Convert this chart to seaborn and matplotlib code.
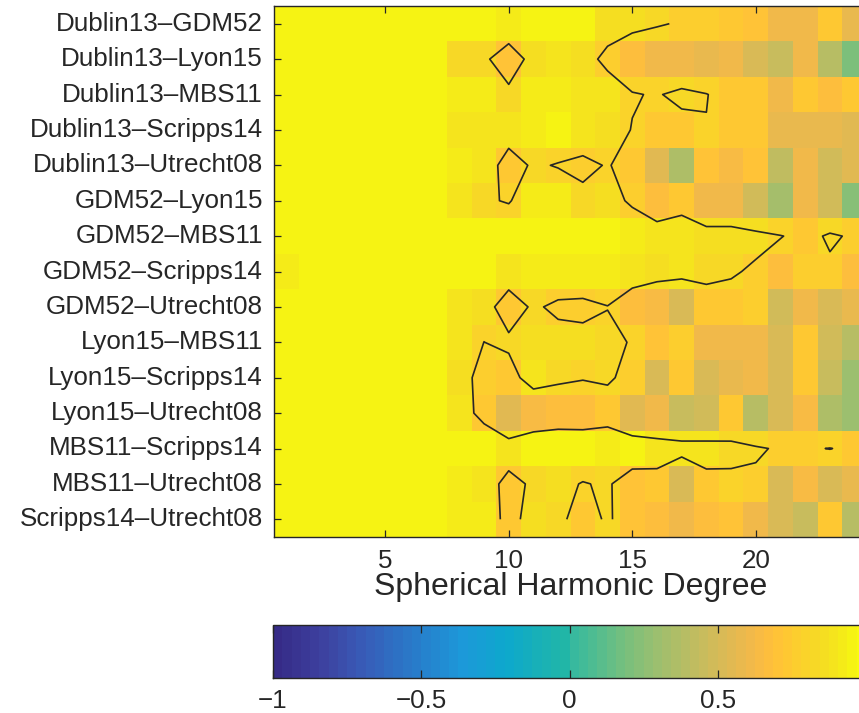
import numpy as np
import pandas as pd
import matplotlib
matplotlib.use("Agg")
import matplotlib.pyplot as plt
from matplotlib.colors import ListedColormap, LinearSegmentedColormap
import seaborn as sns

# Model pairs (rows) and spherical harmonic degrees (columns)
pairs = [
    "Dublin13\u2013GDM52", "Dublin13\u2013Lyon15", "Dublin13\u2013MBS11",
    "Dublin13\u2013Scripps14", "Dublin13\u2013Utrecht08", "GDM52\u2013Lyon15",
    "GDM52\u2013MBS11", "GDM52\u2013Scripps14", "GDM52\u2013Utrecht08",
    "Lyon15\u2013MBS11", "Lyon15\u2013Scripps14", "Lyon15\u2013Utrecht08",
    "MBS11\u2013Scripps14", "MBS11\u2013Utrecht08", "Scripps14\u2013Utrecht08",
]
degrees = list(range(1, 25))

# Correlation per degree for each pair
dublin13_gdm52 = [0.95, 0.95, 0.95, 0.95, 0.95, 0.95, 0.95, 0.95, 0.95, 0.93, 0.95, 0.95, 0.94,
                  0.87, 0.85, 0.82, 0.78, 0.77, 0.72, 0.71, 0.60, 0.60, 0.72, 0.58]
dublin13_lyon15 = [0.95, 0.95, 0.96, 0.95, 0.95, 0.95, 0.94, 0.84, 0.83, 0.70, 0.86, 0.90, 0.86,
                   0.76, 0.66, 0.60, 0.60, 0.59, 0.60, 0.50, 0.44, 0.60, 0.38, 0.20]
dublin13_mbs11 = [0.95, 0.95, 0.95, 0.95, 0.95, 0.95, 0.94, 0.92, 0.93, 0.84, 0.93, 0.92, 0.90,
                  0.88, 0.81, 0.788, 0.84, 0.805, 0.74, 0.72, 0.62, 0.74, 0.66, 0.72]
dublin13_scripps14 = [0.95, 0.95, 0.95, 0.95, 0.95, 0.95, 0.94, 0.90, 0.90, 0.887, 0.92, 0.946, 0.90,
                      0.86, 0.795, 0.72, 0.742, 0.795, 0.73, 0.72, 0.58, 0.58, 0.57, 0.56]
dublin13_utrecht08 = [0.95, 0.95, 0.96, 0.95, 0.95, 0.95, 0.94, 0.92, 0.90, 0.72, 0.824, 0.789, 0.763,
                      0.81, 0.74, 0.55, 0.37, 0.70, 0.64, 0.70, 0.43, 0.60, 0.48, 0.56]
gdm52_lyon15 = [0.95, 0.95, 0.96, 0.95, 0.95, 0.95, 0.94, 0.90, 0.825, 0.785, 0.92, 0.93, 0.84,
                0.87, 0.77, 0.68, 0.73, 0.60, 0.60, 0.47, 0.32, 0.60, 0.47, 0.22]
gdm52_mbs11 = [0.95, 0.95, 0.95, 0.95, 0.95, 0.95, 0.95, 0.95, 0.95, 0.96, 0.95, 0.95, 0.95,
               0.94, 0.93, 0.883, 0.90, 0.874, 0.874, 0.854, 0.81, 0.73, 0.83, 0.77]
gdm52_scripps14 = [0.93, 0.95, 0.95, 0.95, 0.95, 0.95, 0.95, 0.95, 0.95, 0.887, 0.93, 0.93, 0.93,
                   0.93, 0.90, 0.86, 0.88, 0.84, 0.821, 0.772, 0.67, 0.78, 0.762, 0.68]
gdm52_utrecht08 = [0.94, 0.95, 0.95, 0.95, 0.95, 0.95, 0.94, 0.88, 0.86, 0.72, 0.8226, 0.7675, 0.759,
                   0.796, 0.687, 0.653, 0.50, 0.73, 0.72, 0.75, 0.48, 0.60, 0.50, 0.58]
lyon15_mbs11 = [0.95, 0.955, 0.95, 0.95, 0.95, 0.95, 0.94, 0.90, 0.799, 0.83, 0.86, 0.86, 0.85,
                0.84, 0.789, 0.70, 0.76, 0.60, 0.60, 0.62, 0.50, 0.74, 0.48, 0.40]
lyon15_scripps14 = [0.95, 0.95, 0.95, 0.95, 0.95, 0.95, 0.94, 0.854, 0.75, 0.733, 0.88, 0.83, 0.81,
                    0.82, 0.755, 0.50, 0.72, 0.52, 0.58, 0.60, 0.50, 0.73, 0.45, 0.30]
lyon15_utrecht08 = [0.95, 0.95, 0.95, 0.95, 0.95, 0.95, 0.94, 0.90, 0.73, 0.55, 0.63, 0.67, 0.667,
                    0.725, 0.55, 0.60, 0.45, 0.47, 0.72, 0.40, 0.50, 0.64, 0.35, 0.30]
mbs11_scripps14 = [0.95, 0.95, 0.95, 0.95, 0.95, 0.95, 0.95, 0.95, 0.963, 0.897, 0.95, 0.955, 0.95,
                   0.917, 0.94, 0.878, 0.893, 0.888, 0.821, 0.826, 0.775, 0.77, 0.807, 0.74]
mbs11_utrecht08 = [0.95, 0.95, 0.95, 0.95, 0.95, 0.95, 0.94, 0.93, 0.885, 0.743, 0.828, 0.849, 0.79,
                   0.822, 0.699, 0.741, 0.505, 0.736, 0.784, 0.761, 0.50, 0.64, 0.50, 0.58]
scripps14_utrecht08 = [0.95, 0.95, 0.95, 0.95, 0.95, 0.95, 0.94, 0.93, 0.916, 0.74, 0.868, 0.843, 0.72,
                       0.825, 0.70, 0.68, 0.60, 0.66, 0.70, 0.60, 0.50, 0.45, 0.72, 0.40]

contour_level = 0.8
colorbar_ticks = [-1, -0.5, 0, 0.5, 1]
colorbar_labels = ["\u22121", "\u22120.5", "0", "0.5", ""]
degree_ticks = [5, 10, 15, 20]

# Parula-style colour table: soft blue ramp for the negative half,
# followed by the upper 32 steps of the 64-step parula table.
BLUE_HALF = [
    (0.00, (0.21, 0.17, 0.53)), (0.15, (0.24, 0.25, 0.62)),
    (0.30, (0.22, 0.36, 0.72)), (0.50, (0.15, 0.50, 0.80)),
    (0.65, (0.11, 0.60, 0.85)), (0.80, (0.05, 0.66, 0.80)),
    (1.00, (0.13, 0.715, 0.655)),
]
PARULA_UPPER = [
    (0.2178, 0.7250, 0.6193), (0.2586, 0.7317, 0.5954), (0.3022, 0.7376, 0.5712),
    (0.3482, 0.7424, 0.5473), (0.3953, 0.7459, 0.5244), (0.4420, 0.7481, 0.5033),
    (0.4871, 0.7491, 0.4840), (0.5300, 0.7491, 0.4661), (0.5709, 0.7485, 0.4494),
    (0.6099, 0.7473, 0.4337), (0.6473, 0.7456, 0.4188), (0.6834, 0.7435, 0.4044),
    (0.7184, 0.7411, 0.3905), (0.7525, 0.7384, 0.3768), (0.7858, 0.7356, 0.3633),
    (0.8185, 0.7327, 0.3498), (0.8507, 0.7299, 0.3360), (0.8824, 0.7274, 0.3217),
    (0.9139, 0.7258, 0.3063), (0.9450, 0.7261, 0.2886), (0.9739, 0.7314, 0.2666),
    (0.9938, 0.7455, 0.2403), (0.9990, 0.7653, 0.2164), (0.9955, 0.7861, 0.1967),
    (0.9880, 0.8066, 0.1794), (0.9789, 0.8271, 0.1633), (0.9697, 0.8481, 0.1475),
    (0.9626, 0.8705, 0.1309), (0.9589, 0.8949, 0.1132), (0.9598, 0.9218, 0.0948),
    (0.9661, 0.9514, 0.0755), (0.9763, 0.9831, 0.0538),
]
blue_ramp = LinearSegmentedColormap.from_list("blue_half", BLUE_HALF)
parula = ListedColormap(
    [blue_ramp(t)[:3] for t in np.linspace(0, 1, 32)] + PARULA_UPPER, name="parula")

plt.rcParams["font.family"] = ["Liberation Sans", "DejaVu Sans"]
ink = "#262626"

rows = [dublin13_gdm52, dublin13_lyon15, dublin13_mbs11, dublin13_scripps14,
        dublin13_utrecht08, gdm52_lyon15, gdm52_mbs11, gdm52_scripps14,
        gdm52_utrecht08, lyon15_mbs11, lyon15_scripps14, lyon15_utrecht08,
        mbs11_scripps14, mbs11_utrecht08, scripps14_utrecht08]
data = pd.DataFrame(rows, index=pairs, columns=degrees)

W, H = 859, 713
fig = plt.figure(figsize=(W / 100, H / 100), dpi=100)
ax = fig.add_axes([274 / W, 1 - 537 / H, 593 / W, 531 / H])
cax = fig.add_axes([273 / W, 1 - 678 / H, 593 / W, 53 / H])

sns.heatmap(data, ax=ax, cmap=parula, vmin=-1, vmax=1, cbar_ax=cax,
            cbar_kws={"orientation": "horizontal", "ticks": colorbar_ticks})

# Contour of the correlation field on the cell centres
xc = np.arange(len(degrees)) + 0.5
yc = np.arange(len(pairs)) + 0.5
ax.contour(xc, yc, data.values, levels=[contour_level], colors=ink, linewidths=1.2)

ax.set_xticks([degrees.index(d) + 0.5 for d in degree_ticks])
ax.set_xticklabels([str(d) for d in degree_ticks], rotation=0)
ax.set_yticks(yc)
ax.set_yticklabels(pairs, rotation=0)
ax.tick_params(axis="both", direction="in", length=5, width=0.9, color=ink,
               labelcolor=ink, labelsize=18.7, top=True, right=True,
               bottom=True, left=True)
ax.tick_params(axis="x", pad=9)
ax.tick_params(axis="y", pad=8)
for s in ax.spines.values():
    s.set_visible(True)
    s.set_color(ink)
    s.set_linewidth(1.0)
ax.set_ylabel("")
ax.set_xlabel("Spherical Harmonic Degree", fontsize=23, color=ink, labelpad=-1)

cbar = ax.collections[0].colorbar
cbar.outline.set_visible(True)
cbar.outline.set_edgecolor(ink)
cbar.outline.set_linewidth(1.0)
cbar.set_ticks(colorbar_ticks)
cbar.set_ticklabels(colorbar_labels)
cax.xaxis.set_ticks_position("both")
cax.tick_params(axis="x", direction="in", length=6, width=0.9, color=ink,
                labelcolor=ink, labelsize=18.7, pad=8, top=True, bottom=True,
                labeltop=False, labelbottom=True)

fig.savefig("out.png", dpi=100)
